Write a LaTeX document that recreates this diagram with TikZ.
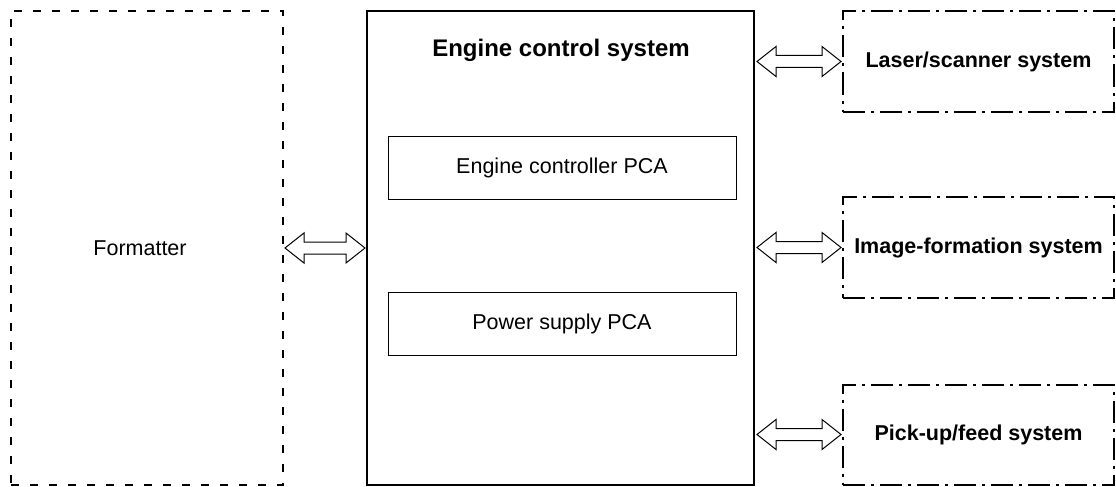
\documentclass[tikz,border=0pt]{standalone}
\usepackage{fontspec}
\setmainfont{Liberation Sans}
\usetikzlibrary{calc}
\tikzset{
  normtext/.style={font=\fontsize{21.5}{25}\selectfont},
  formbox/.style={draw, line width=2pt, dash pattern=on 8pt off 11pt, inner sep=0pt, normtext},
  engbox/.style={draw, line width=2pt, inner sep=0pt},
  pcabox/.style={draw, line width=1pt, inner sep=0pt, normtext},
  sysbox/.style={draw, line width=2pt, dash pattern=on 22pt off 6pt on 3pt off 6pt, inner sep=0pt, font=\bfseries\fontsize{21.5}{25}\selectfont},
  dblarr/.style={draw, line width=1pt, fill=white, line join=miter},
}
\newcommand{\dblarrow}[2]{%
  \path (#1) coordinate (da1) (#2) coordinate (da2);
  \draw[dblarr] (da1) -- ($(da1)+(19,-15)$) -- ($(da1)+(19,-6)$) -- ($(da2)+(-19,-6)$) -- ($(da2)+(-19,-15)$)
   -- (da2) -- ($(da2)+(-19,15)$) -- ($(da2)+(-19,6)$) -- ($(da1)+(19,6)$) -- ($(da1)+(19,15)$) -- cycle;
}
\begin{document}
\begin{tikzpicture}[x=1pt,y=-1pt]
\useasboundingbox (0,0) rectangle (1116,487);
\node[formbox, minimum width=272pt, minimum height=474pt] (form) at (147,248) {};
\node[normtext] (formt) at (140,248) {Formatter};
\node[engbox, minimum width=387pt, minimum height=474pt] (eng) at (560.5,248) {};
\node[font=\bfseries\fontsize{24}{28}\selectfont] (engt) at (561,50) {Engine control system};
\node[pcabox, minimum width=348pt, minimum height=63pt] (ecp) at (562,167.5) {Engine controller PCA};
\node[pcabox, minimum width=348pt, minimum height=63pt] (psp) at (562,323.5) {Power supply PCA};
\node[sysbox, minimum width=271pt, minimum height=100pt] (las) at (978.5,61.5) {Laser/scanner system};
\node[sysbox, minimum width=271pt, minimum height=101pt] (img) at (978.5,247.5) {Image-formation system};
\node[sysbox, minimum width=271pt, minimum height=100pt] (pick) at (978.5,434.5) {Pick-up/feed system};
\dblarrow{$(form.east)+(1,0)$}{$(eng.west)+(-1,0)$}
\dblarrow{$(eng.east |- las.west)+(2,0)$}{$(las.west)+(-1,0)$}
\dblarrow{$(eng.east |- img.west)+(2,0)$}{$(img.west)+(-1,0)$}
\dblarrow{$(eng.east |- pick.west)+(2,0)$}{$(pick.west)+(-1,0)$}
\end{tikzpicture}
\end{document}
